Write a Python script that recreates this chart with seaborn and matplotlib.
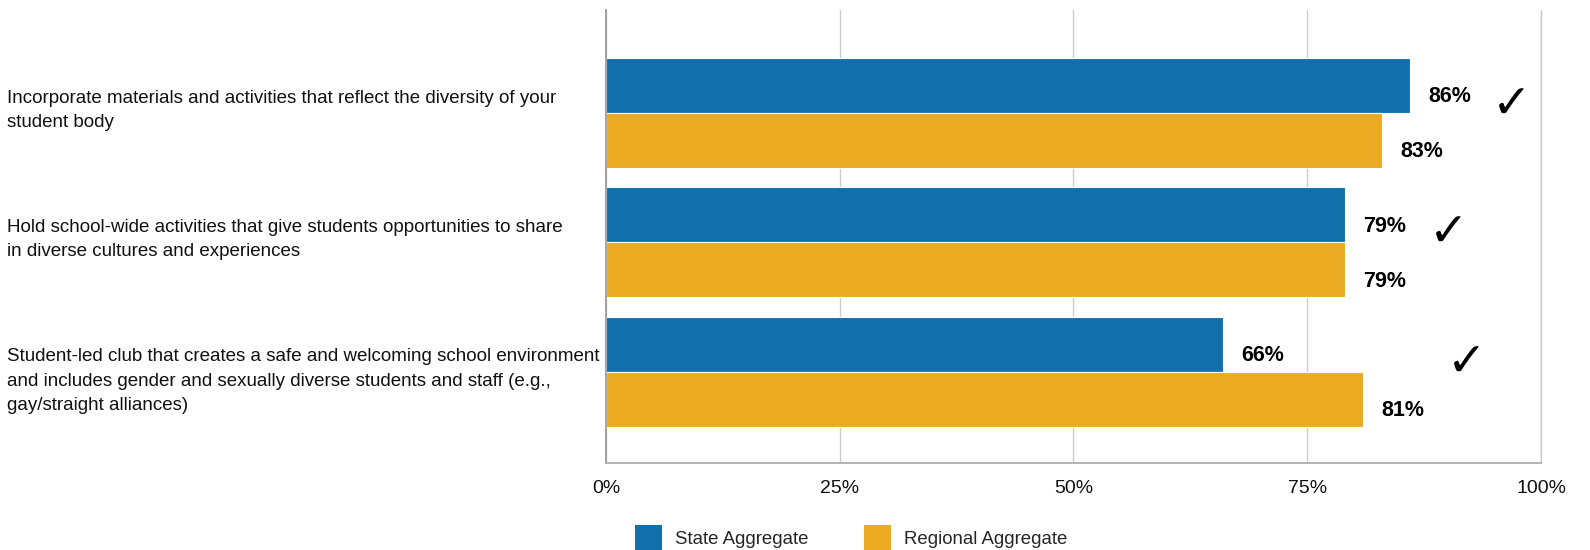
import matplotlib
matplotlib.use("Agg")
import matplotlib.pyplot as plt
import seaborn as sns
import pandas as pd
from matplotlib.patches import Patch
from matplotlib.transforms import blended_transform_factory

# ---- data ----
categories = [
    "Incorporate materials and activities that reflect the diversity of your\nstudent body",
    "Hold school-wide activities that give students opportunities to share\nin diverse cultures and experiences",
    "Student-led club that creates a safe and welcoming school environment\nand includes gender and sexually diverse students and staff (e.g.,\ngay/straight alliances)",
]
series = ["State Aggregate", "Regional Aggregate"]
state_values = [86, 79, 66]
regional_values = [83, 79, 81]
tick_values = [0, 25, 50, 75, 100]
tick_labels = ["0%", "25%", "50%", "75%", "100%"]
check_x = [96.9, 90.1, 92.1]
check_dy = [-0.05, -0.06, -0.06]

colors = ["#1170aa", "#eaab23"]

df = pd.DataFrame({
    "category": categories * 2,
    "series": [series[0]] * 3 + [series[1]] * 3,
    "value": state_values + regional_values,
})

sns.set_theme(style="white")
plt.rcParams["font.family"] = ["Liberation Sans", "DejaVu Sans"]

fig = plt.figure(figsize=(15.9, 5.5), dpi=100)
ax = fig.add_axes([0.3811, 0.1582, 0.5881, 0.8236])

sns.barplot(data=df, x="value", y="category", hue="series", orient="h",
            palette=colors, width=0.85, ax=ax, saturation=1, legend=False,
            edgecolor="white", linewidth=0.8)

for cont in ax.containers:
    anns = ax.bar_label(cont, labels=[f"{int(v)}%" for v in cont.datavalues],
                        padding=13, fontsize=15.5, fontweight="bold", color="black")
    for a in anns:
        a.xyann = (13, -8.2)

ax.set_xlim(0, 100)
ax.set_ylim(2.707, -0.797)
ax.set_xticks(tick_values)
ax.set_xticklabels(tick_labels, fontsize=14, color="#111111")
ax.tick_params(axis="x", length=0, pad=12)
ax.set_yticks(range(len(categories)))
ax.set_yticklabels([])
ax.tick_params(axis="y", length=0)
ax.set_xlabel("")
ax.set_ylabel("")
ax.grid(axis="x", color="#cccccc", linewidth=1)
ax.set_axisbelow(True)
ax.axvline(100, color="#cccccc", linewidth=1, clip_on=False, zorder=0)
for s in ["top", "right"]:
    ax.spines[s].set_visible(False)
ax.spines["left"].set_color("#999999")
ax.spines["bottom"].set_color("#aaaaaa")

# category labels (top-anchored, left-aligned at the figure edge)
trans = blended_transform_factory(fig.transFigure, ax.transData)
for i, lab in enumerate(categories):
    ax.text(7 / 1590, i - 0.18, lab, transform=trans, ha="left", va="top",
            fontsize=13.5, color="#111111", linespacing=1.56)

for i, (cx, dy) in enumerate(zip(check_x, check_dy)):
    ax.text(cx, i + dy, "\u2713", fontsize=34, ha="center", va="center",
            family=["DejaVu Sans"], color="black")

handles = [Patch(facecolor=c, edgecolor="none") for c in colors]
fig.legend(handles, series, loc="center left", bbox_to_anchor=(0.3994, 0.021),
           ncol=2, frameon=False, fontsize=13.4, handlelength=1.45,
           handleheight=1.8, handletextpad=0.7, columnspacing=3.0,
           borderpad=0, borderaxespad=0)

fig.savefig("out.png", dpi=100)
